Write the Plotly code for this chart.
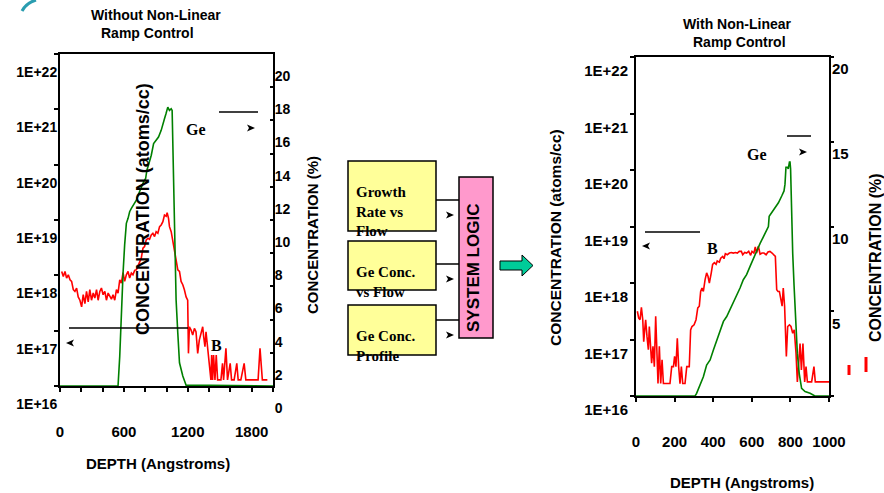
import plotly.graph_objects as go

# ---------------- data ----------------
# Left panel: "Without Non-Linear Ramp Control"
b_left_depth = [16, 31, 47, 62, 78, 94, 109, 125, 140, 156,
                171, 187, 203, 218, 234, 249, 265, 280, 296, 312,
                327, 343, 358, 374, 389, 405, 421, 436, 452, 467,
                483, 498, 514, 530, 545, 561, 576, 592, 607, 623,
                639, 654, 670, 685, 701, 717, 732, 748, 763, 779,
                794, 810, 826, 841, 857, 872, 888, 903, 919, 935,
                950, 966, 981, 997, 1006, 1019, 1028, 1044, 1059, 1075,
                1090, 1106, 1122, 1137, 1153, 1168, 1184, 1199, 1206, 1215,
                1231, 1246, 1262, 1277, 1293, 1308, 1324, 1340, 1349, 1361,
                1371, 1386, 1402, 1417, 1424, 1433, 1442, 1455, 1467, 1480,
                1511, 1526, 1536, 1558, 1573, 1598, 1611, 1635, 1660, 1673,
                1698, 1729, 1745, 1791, 1822, 1860, 1878, 1900, 1947]
# log10 of boron concentration (atoms/cc)
b_left_log10 = [18.07, 17.98, 18.07, 17.95, 18.01, 17.92, 17.89, 17.74, 17.71, 17.77,
                17.61, 17.55, 17.43, 17.65, 17.49, 17.71, 17.52, 17.74, 17.55, 17.68,
                17.59, 17.74, 17.55, 17.71, 17.77, 17.65, 17.71, 17.55, 17.68, 17.61,
                17.57, 17.65, 17.55, 17.74, 17.68, 17.92, 17.86, 18.05, 17.89, 18.01,
                18.07, 17.95, 18.04, 18.01, 18.09, 18.10, 18.16, 18.25, 18.31, 18.49,
                18.52, 18.64, 18.67, 18.65, 18.73, 18.76, 18.70, 18.79, 18.76, 18.88,
                18.91, 18.97, 19.09, 19.07, 19.13, 19.03, 18.88, 18.79, 18.64, 18.49,
                18.28, 18.10, 18.07, 17.89, 17.83, 17.74, 17.61, 17.55, 16.59, 17.07,
                17.01, 16.92, 17.04, 16.98, 16.59, 16.83, 16.95, 17.07, 16.89, 16.71,
                16.98, 16.71, 16.41, 16.11, 16.56, 16.11, 16.56, 16.11, 16.56, 16.11,
                16.11, 16.41, 16.11, 16.68, 16.11, 16.41, 16.11, 16.11, 16.41, 16.11,
                16.11, 16.41, 16.11, 16.11, 16.11, 16.11, 16.68, 16.11, 16.11]
ge_left_depth = [0, 545, 561, 576, 592, 607, 623, 639, 654, 670,
                 690, 717, 740, 763, 785, 804, 816, 835, 857, 879,
                 903, 925, 950, 965, 981, 995, 1012, 1028, 1044, 1053,
                 1057, 1062, 1066, 1072, 1078, 1090, 1106, 1122, 1153, 1184, 2000]
ge_left_pct = [0, 0, 1.8, 4.6, 6.8, 8.5, 9.8, 10.1, 10.5, 10.7,
               10.9, 11.2, 11.6, 12.0, 12.3, 12.5, 13.0, 13.4, 13.9, 14.6,
               14.8, 15.0, 15.4, 15.8, 16.1, 16.4, 16.8, 16.6, 16.7, 16.6,
               15.2, 13.2, 11.2, 9.2, 7.2, 5.2, 3.2, 1.4, 0.6, 0.05, 0]

# Right panel: "With Non-Linear Ramp Control"
b_right_depth = [7, 14, 21, 28, 35, 40, 45, 50, 57, 64,
                 69, 76, 81, 88, 95, 102, 107, 114, 121, 128,
                 135, 142, 176, 185, 194, 200, 207, 214, 221, 228,
                 235, 242, 254, 263, 276, 283, 290, 301, 311, 320,
                 328, 335, 342, 349, 358, 366, 373, 380, 390, 397,
                 406, 415, 421, 432, 439, 449, 456, 463, 473, 484,
                 494, 504, 515, 525, 535, 546, 553, 563, 573, 584,
                 594, 601, 611, 618, 625, 634, 643, 653, 663, 674,
                 684, 694, 705, 715, 722, 729, 736, 743, 750, 757,
                 763, 770, 779, 786, 795, 803, 812, 820, 829, 836,
                 843, 850, 857, 865, 874, 881, 888, 910, 922, 929, 1000]
b_right_log10 = [17.50, 17.38, 17.35, 17.57, 17.35, 16.96, 17.17, 17.35, 17.05, 16.82,
                 17.23, 16.91, 16.58, 16.88, 16.52, 17.41, 16.88, 16.22, 16.88, 16.22,
                 16.64, 16.22, 16.22, 16.52, 16.52, 16.70, 16.52, 17.02, 16.52, 16.22,
                 16.52, 16.22, 16.22, 16.52, 16.52, 17.17, 17.23, 17.26, 17.35, 17.56,
                 17.59, 17.85, 17.91, 17.85, 18.06, 18.18, 18.12, 18.00, 18.18, 18.33,
                 18.36, 18.33, 18.39, 18.37, 18.44, 18.47, 18.43, 18.52, 18.50, 18.53,
                 18.54, 18.53, 18.54, 18.53, 18.56, 18.56, 18.50, 18.54, 18.53, 18.56,
                 18.49, 18.56, 18.53, 18.64, 18.53, 18.65, 18.51, 18.53, 18.53, 18.50,
                 18.55, 18.56, 18.53, 18.50, 18.47, 17.88, 17.85, 17.85, 17.70, 17.59,
                 17.91, 17.59, 16.70, 17.23, 17.26, 17.23, 17.11, 17.17, 16.76, 16.25,
                 16.58, 16.93, 16.46, 16.93, 16.25, 16.52, 16.25, 16.25, 16.52, 16.25, 16.25]
ge_right_depth = [0, 306, 314, 332, 349, 366, 384, 401, 418, 435,
                  453, 470, 487, 504, 522, 539, 556, 573, 591, 608,
                  625, 643, 660, 686, 690, 720, 738, 755, 767, 772,
                  775, 777, 784, 789, 795, 798, 801, 805, 808, 812,
                  819, 827, 836, 846, 858, 876, 902, 927, 1000]
ge_right_pct = [0, 0, 0.16, 0.65, 1.14, 1.83, 2.13, 2.72, 3.31, 3.91,
                4.40, 4.69, 5.09, 5.48, 5.98, 6.37, 6.86, 7.16, 7.65, 8.05,
                8.54, 9.0, 9.4, 10.0, 10.6, 11.1, 11.4, 11.8, 12.1, 12.5,
                13.2, 13.5, 13.5, 13.4, 13.8, 13.8, 13.4, 11.4, 9.4, 8.4,
                6.5, 4.5, 2.5, 1.3, 0.45, 0.26, 0.16, 0, 0]

# tick labels
log_tickvals = [1e16, 1e17, 1e18, 1e19, 1e20, 1e21, 1e22]
log_ticktext = ["1E+16", "1E+17", "1E+18", "1E+19", "1E+20", "1E+21", "1E+22"]
left_x_tickvals = [0, 200, 400, 600, 800, 1000, 1200, 1400, 1600, 1800, 2000]
left_x_ticktext = ["0", "", "", "600", "", "", "1200", "", "", "1800", ""]
left_pct_tickvals = [0, 2, 4, 6, 8, 10, 12, 14, 16, 18, 20]
left_pct_ticktext = ["0", "2", "4", "6", "8", "10", "12", "14", "16", "18", "20"]
right_x_tickvals = [0, 200, 400, 600, 800, 1000]
right_x_ticktext = ["0", "200", "400", "600", "800", "1000"]
right_pct_tickvals = [0, 5, 10, 15, 20]
right_pct_ticktext = ["", "5", "10", "15", "20"]

# ---------------- layout helpers ----------------
W, H = 884, 493
SANS = "Arial, Liberation Sans, sans-serif"
SERIF = "Times New Roman, Liberation Serif, serif"


def X(px):
    return px / W


def Y(py):
    return 1 - py / H


RED = "#FF0000"
GREEN = "#008000"

fig = go.Figure()
fig.add_trace(go.Scatter(x=b_left_depth, y=[10 ** v for v in b_left_log10],
                         xaxis="x", yaxis="y", mode="lines",
                         line=dict(color=RED, width=1.6), showlegend=False))
fig.add_trace(go.Scatter(x=ge_left_depth, y=ge_left_pct, xaxis="x", yaxis="y2",
                         mode="lines", line=dict(color=GREEN, width=1.6), showlegend=False))
fig.add_trace(go.Scatter(x=b_right_depth, y=[10 ** v for v in b_right_log10],
                         xaxis="x2", yaxis="y3", mode="lines",
                         line=dict(color=RED, width=1.6), showlegend=False))
fig.add_trace(go.Scatter(x=ge_right_depth, y=ge_right_pct, xaxis="x2", yaxis="y4",
                         mode="lines", line=dict(color=GREEN, width=1.6), showlegend=False))

common = dict(showgrid=False, zeroline=False, showline=True, linecolor="black",
              linewidth=2, tickcolor="black", automargin=False, layer="below traces")
tf15 = dict(family=SANS, size=15, color="black", weight="bold")
tf14 = dict(family=SANS, size=14, color="black", weight="bold")

fig.update_layout(
    width=W, height=H, autosize=False,
    margin=dict(l=0, r=0, t=0, b=0),
    paper_bgcolor="white", plot_bgcolor="white",
    showlegend=False,
    xaxis=dict(domain=[X(60), X(273)], range=[0, 2000], anchor="y",
               tickmode="array", tickvals=left_x_tickvals, ticktext=left_x_ticktext,
               ticks="outside", ticklen=4, tickwidth=1.5, ticklabelstandoff=27,
               tickfont=tf15, mirror=True, **common),
    yaxis=dict(domain=[Y(386), Y(54)], type="log", range=[16, 22], anchor="x",
               tickmode="array", tickvals=log_tickvals, ticktext=log_ticktext,
               ticks="outside", ticklen=4, tickwidth=1.5, ticklabelshift=18,
               ticklabelstandoff=-6, tickfont=tf14, **common),
    yaxis2=dict(overlaying="y", side="right", anchor="x", range=[0, 20],
                tickmode="array", tickvals=left_pct_tickvals, ticktext=left_pct_ticktext,
                ticks="inside", ticklen=3, tickwidth=1.5, ticklabelshift=22,
                ticklabelstandoff=-3, tickfont=tf14, **common),
    xaxis2=dict(domain=[X(636), X(829)], range=[0, 1000], anchor="y3",
                tickmode="array", tickvals=right_x_tickvals, ticktext=right_x_ticktext,
                ticks="outside", ticklen=4, tickwidth=1.5, ticklabelstandoff=27,
                tickfont=tf15, mirror=True, **common),
    yaxis3=dict(domain=[Y(396), Y(57)], type="log", range=[16, 22], anchor="x2",
                tickmode="array", tickvals=log_tickvals, ticktext=log_ticktext,
                ticks="outside", ticklen=4, tickwidth=1.5, ticklabelshift=14,
                ticklabelstandoff=-1, tickfont=tf15, **common),
    yaxis4=dict(overlaying="y3", side="right", anchor="x2", range=[0, 20],
                tickmode="array", tickvals=right_pct_tickvals, ticktext=right_pct_ticktext,
                ticks="outside", ticklen=3, tickwidth=1.5, ticklabelshift=12,
                ticklabelstandoff=-5, tickfont=tf15, **common),
)

annotations = []


def txt(text, px, py, size, family=SANS, angle=0, xanchor="center", align="center",
        color="black"):
    annotations.append(dict(text=text, x=X(px), y=Y(py), xref="paper", yref="paper",
                            showarrow=False, xanchor=xanchor, yanchor="middle",
                            align=align, textangle=angle,
                            font=dict(family=family, size=size, color=color, weight="bold")))


# panel titles
txt("Without Non-Linear", 156, 15, 14)
txt("Ramp Control", 147, 33, 14)
txt("With Non-Linear", 737, 24, 14)
txt("Ramp Control", 739, 42, 14)
# axis titles
txt("CONCENTRATION (atoms/cc)", 143, 209, 18, angle=-90)
txt("CONCENTRATION (%)", 312, 235, 15, angle=-90)
txt("DEPTH (Angstroms)", 158, 463, 15)
txt("CONCENTRATION (atoms/cc)", 555, 238, 15.5, angle=-90)
txt("CONCENTRATION (%)", 875, 258, 16, angle=-90)
txt("DEPTH (Angstroms)", 742, 482, 15)
# series labels
txt("Ge", 196, 129, 16, family=SERIF)
txt("B", 216, 345, 16, family=SERIF)
txt("Ge", 757, 154, 16, family=SERIF)
txt("B", 712, 249, 16, family=SERIF)
# diagram texts
txt("Growth<br>Rate vs<br>Flow", 354, 211, 15, family=SERIF, xanchor="left", align="left")
txt("Ge Conc.<br>vs Flow", 354, 282, 15, family=SERIF, xanchor="left", align="left")
txt("Ge Conc.<br>Profile", 354, 346, 15, family=SERIF, xanchor="left", align="left")
txt("SYSTEM LOGIC", 473, 268, 17, angle=-90)

shapes = []


def rect(x0, y0, x1, y1, fill, lw=1.5):
    shapes.append(dict(type="rect", xref="paper", yref="paper",
                       x0=X(x0), y0=Y(y1), x1=X(x1), y1=Y(y0),
                       fillcolor=fill, line=dict(color="black", width=lw), layer="below"))


def seg(x0, y0, x1, y1, color="black", lw=1.5):
    shapes.append(dict(type="line", xref="paper", yref="paper",
                       x0=X(x0), y0=Y(y0), x1=X(x1), y1=Y(y1),
                       line=dict(color=color, width=lw)))


def path(points, fill, lw=0, color="black"):
    d = "M " + " L ".join(f"{X(a):.5f},{Y(b):.5f}" for a, b in points) + " Z"
    shapes.append(dict(type="path", xref="paper", yref="paper", path=d,
                       fillcolor=fill, line=dict(color=color, width=lw)))


def head(cx, cy, direction=1):
    s = direction
    path([(cx - 4 * s, cy - 3.5), (cx + 4 * s, cy), (cx - 4 * s, cy + 3.5), (cx - 2 * s, cy)],
         "black")


# diagram boxes
rect(348, 161, 436, 231, "#FFFF99")
rect(348, 241, 436, 290, "#FFFF99")
rect(348, 305, 436, 355, "#FFFF99")
rect(459, 177, 493, 338, "#FF99CC")
for yy in (200, 264, 320):
    seg(436, yy, 459, yy)
for yy in (215, 279, 335):
    head(450, yy, 1)
# green block arrow
path([(500, 261), (522, 261), (522, 255), (533, 265.5), (522, 276), (522, 270), (500, 270)],
     "#00CC99", lw=1)

# legend-like keys
seg(219, 112, 258, 112)
head(251, 128, 1)
seg(69, 328, 188, 328)
head(70, 343, -1)
seg(787, 136, 811, 136)
head(803, 152, 1)
seg(645, 232, 700, 232)
head(646, 246, -1)

# stray red marks right of the right panel
seg(849, 365, 849, 375, color=RED, lw=3)
seg(866, 357, 866, 372, color=RED, lw=3)

# logo fragment (top-left)
shapes.append(dict(type="path", xref="paper", yref="paper",
                   path=f"M {X(22):.5f},{Y(11):.5f} Q {X(26):.5f},{Y(3):.5f} {X(36):.5f},{Y(0):.5f}",
                   line=dict(color="#2A9DB0", width=3)))

fig.update_layout(annotations=annotations, shapes=shapes)
fig.write_html("out.html", config={"displayModeBar": False},
               post_script="document.body.style.margin='0';document.body.style.overflow='hidden';")
